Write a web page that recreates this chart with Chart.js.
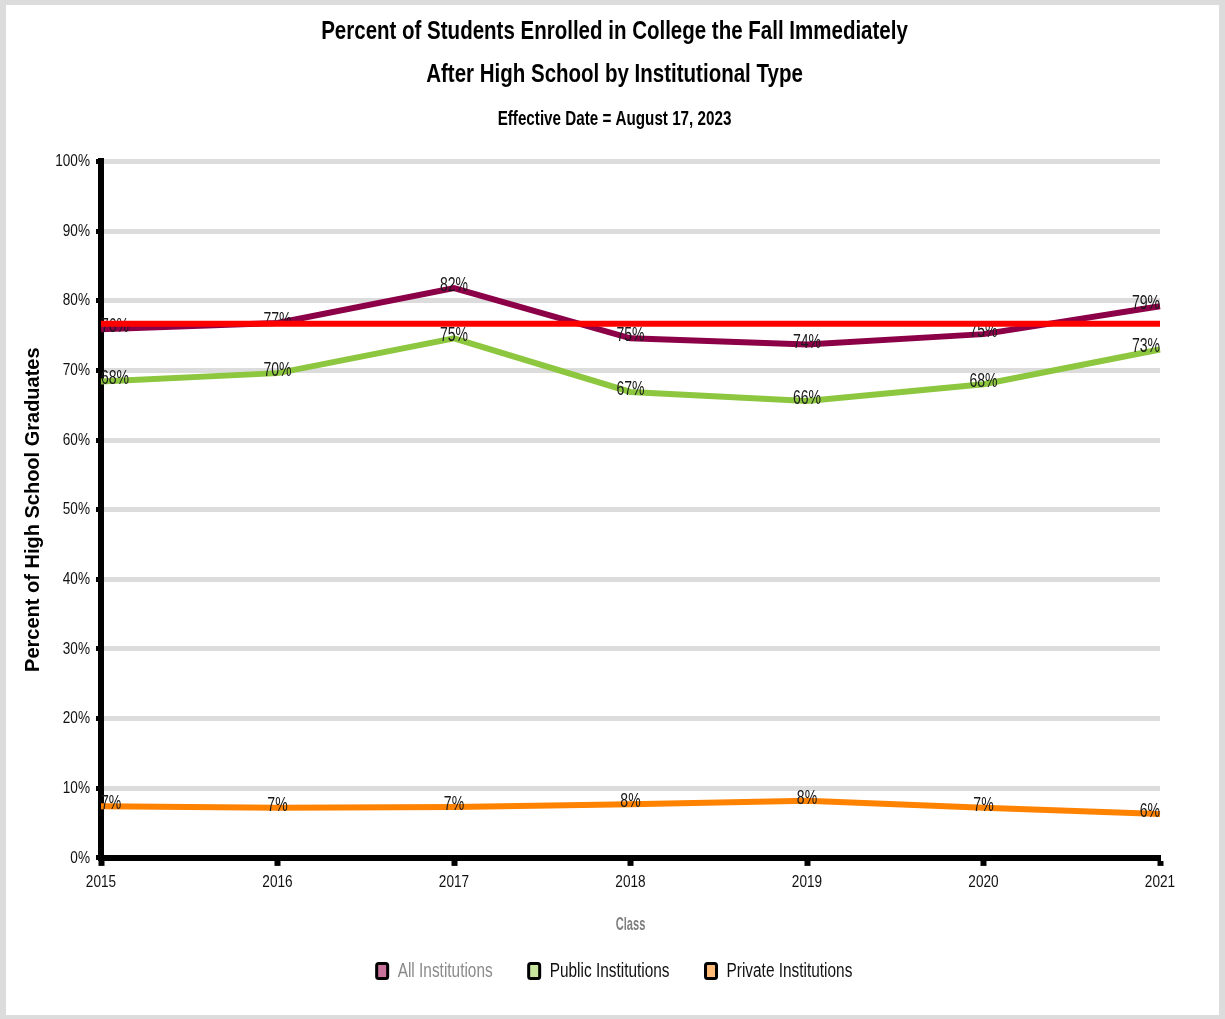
<!DOCTYPE html>
<html>
<head>
<meta charset="utf-8">
<script src="https://cdn.jsdelivr.net/npm/chart.js@4.4.0/dist/chart.umd.min.js"></script>
<style>
  html, body { margin: 0; padding: 0; background: #dcdcdc; }
  #frame { position: absolute; left: 6px; top: 5px; width: 1213px; height: 1010px; background: #fff; }
</style>
</head>
<body>
<div id="frame"><canvas id="myChart" width="1213" height="1010"></canvas></div>
<script>
"use strict";

const years = ['2015', '2016', '2017', '2018', '2019', '2020', '2021'];
const allInst = [75.9, 76.8, 81.8, 74.6, 73.7, 75.2, 79.2];
const publicInst = [68.4, 69.6, 74.6, 66.9, 65.6, 68.0, 73.0];
const privateInst = [7.4, 7.2, 7.3, 7.7, 8.2, 7.2, 6.3];
const refLine = [76.7, 76.7, 76.7, 76.7, 76.7, 76.7, 76.7];

// no Arial Narrow installed: a family like "Narrow 80" means Liberation Sans squeezed to 80% width
function narrow(pct) {
    return '"Narrow ' + pct + '", "Liberation Sans", sans-serif';
}

const ctx = document.getElementById('myChart').getContext('2d');
const origFill = ctx.fillText.bind(ctx);
const origMeasure = ctx.measureText.bind(ctx);
function squeeze() {
    const m = /Narrow (\d+)/.exec(ctx.font);
    return m ? m[1] / 100 : 1;
}
ctx.fillText = function (text, x, y, maxWidth) {
    const k = squeeze();
    if (k === 1) {
        if (maxWidth === undefined) return origFill(text, x, y);
        return origFill(text, x, y, maxWidth);
    }
    ctx.save();
    ctx.translate(x, y);
    ctx.scale(k, 1);
    if (maxWidth === undefined) origFill(text, 0, 0);
    else origFill(text, 0, 0, maxWidth / k);
    ctx.restore();
};
ctx.measureText = function (text) {
    const m = origMeasure(text);
    const k = squeeze();
    if (k === 1) return m;
    return {
        width: m.width * k,
        actualBoundingBoxAscent: m.actualBoundingBoxAscent,
        actualBoundingBoxDescent: m.actualBoundingBoxDescent,
        actualBoundingBoxLeft: m.actualBoundingBoxLeft * k,
        actualBoundingBoxRight: m.actualBoundingBoxRight * k
    };
};

// % value above each point, kept inside the plot area; drawn before the red line goes on top
const pointLabels = {
    id: 'pointLabels',
    afterDatasetDraw(chart, args) {
        const ds = chart.data.datasets[args.index];
        if (!ds.showValues) return;
        const c = chart.ctx;
        const area = chart.chartArea;
        c.save();
        c.font = '19.5px ' + narrow(72);
        c.fillStyle = '#1a1a1a';
        c.textAlign = 'left';
        c.textBaseline = 'alphabetic';
        args.meta.data.forEach(function (pt, j) {
            const txt = Math.round(ds.data[j]) + '%';
            const w = c.measureText(txt).width;
            let x = pt.x - w / 2;
            if (x < area.left) x = area.left;
            if (x + w > area.right) x = area.right - w;
            c.fillText(txt, x, pt.y + 3);
        });
        c.restore();
    }
};

const myChart = new Chart(ctx, {
    type: 'line',
    data: {
        labels: years,
        datasets: [{
            label: 'All Institutions',
            data: allInst,
            borderColor: '#8c0048',
            legendFill: '#c8739c',
            legendText: '#8a8a8a',
            showValues: true,
            borderWidth: 6,
            pointRadius: 0,
            tension: 0,
            order: 1
        },
        {
            label: 'Public Institutions',
            data: publicInst,
            borderColor: '#8dc63f',
            legendFill: '#c9e49c',
            legendText: '#111111',
            showValues: true,
            borderWidth: 6,
            pointRadius: 0,
            tension: 0,
            order: 2
        },
        {
            label: 'Private Institutions',
            data: privateInst,
            borderColor: '#ff8200',
            legendFill: '#ffbb77',
            legendText: '#111111',
            showValues: true,
            borderWidth: 6,
            pointRadius: 0,
            tension: 0,
            order: 3
        },
        {
            label: 'Reference',
            data: refLine,
            borderColor: '#ff0000',
            borderWidth: 6,
            pointRadius: 0,
            tension: 0,
            order: 0
        }]
    },
    options: {
        responsive: false,
        animation: false,
        layout: {
            padding: { left: 12, right: 8, top: 0, bottom: 24 }
        },
        plugins: {
            title: {
                display: true,
                text: ['Percent of Students Enrolled in College the Fall Immediately',
                    'After High School by Institutional Type'],
                color: '#000',
                font: { family: narrow(82), size: 25, weight: 'bold', lineHeight: 1.72 },
                padding: { top: 6, bottom: 11 }
            },
            subtitle: {
                display: true,
                text: 'Effective Date = August 17, 2023',
                color: '#000',
                font: { family: narrow(78), size: 19.5, weight: 'bold', lineHeight: 1.2 },
                padding: { top: 0, bottom: 30 }
            },
            legend: {
                position: 'bottom',
                labels: {
                    boxWidth: 11,
                    boxHeight: 15,
                    padding: 36,
                    font: { family: narrow(77), size: 20 },
                    filter: function (item) { return item.datasetIndex < 3; },
                    generateLabels: function (chart) {
                        return chart.data.datasets.map(function (ds, i) {
                            return {
                                text: ds.label,
                                fillStyle: ds.legendFill,
                                strokeStyle: '#000',
                                fontColor: ds.legendText,
                                lineWidth: 3,
                                borderRadius: 2,
                                datasetIndex: i,
                                hidden: false
                            };
                        });
                    }
                }
            },
            tooltip: { enabled: false }
        },
        scales: {
            x: {
                offset: false,
                grid: {
                    drawOnChartArea: false,
                    tickLength: 8,
                    tickWidth: 6,
                    tickColor: '#000'
                },
                border: { display: true, color: '#000', width: 6 },
                ticks: {
                    color: '#111',
                    padding: 6,
                    maxRotation: 0,
                    font: { family: narrow(80), size: 17 }
                },
                title: {
                    display: true,
                    text: 'Class',
                    color: '#7f7f7f',
                    font: { family: narrow(60), size: 18.5, weight: 'bold' },
                    padding: { top: 16, bottom: -11.5 }
                }
            },
            y: {
                min: 0,
                max: 100,
                afterFit: function (scale) { scale.width = 83; },
                ticks: {
                    stepSize: 10,
                    color: '#111',
                    padding: 6,
                    font: { family: narrow(80), size: 17 },
                    callback: function (v) { return v + '%'; }
                },
                grid: {
                    color: function (c) { return c.tick && c.tick.value === 0 ? '#000' : '#dcdcdc'; },
                    lineWidth: 5,
                    tickLength: 5,
                    tickWidth: 5,
                    tickColor: '#000'
                },
                border: { display: true, color: '#000', width: 6 },
                title: {
                    display: true,
                    text: 'Percent of High School Graduates',
                    color: '#000',
                    font: { family: '"Liberation Sans", Arial, sans-serif', size: 20, weight: 'bold' },
                    padding: { top: 3, bottom: 0 }
                }
            },
            // empty strip on the right so title and legend centre on the canvas
            yPad: {
                type: 'linear',
                position: 'right',
                display: true,
                afterFit: function (scale) { scale.width = 51; },
                ticks: { display: false },
                grid: { display: false },
                border: { display: false }
            }
        }
    },
    plugins: [pointLabels]
});
</script>
</body>
</html>
